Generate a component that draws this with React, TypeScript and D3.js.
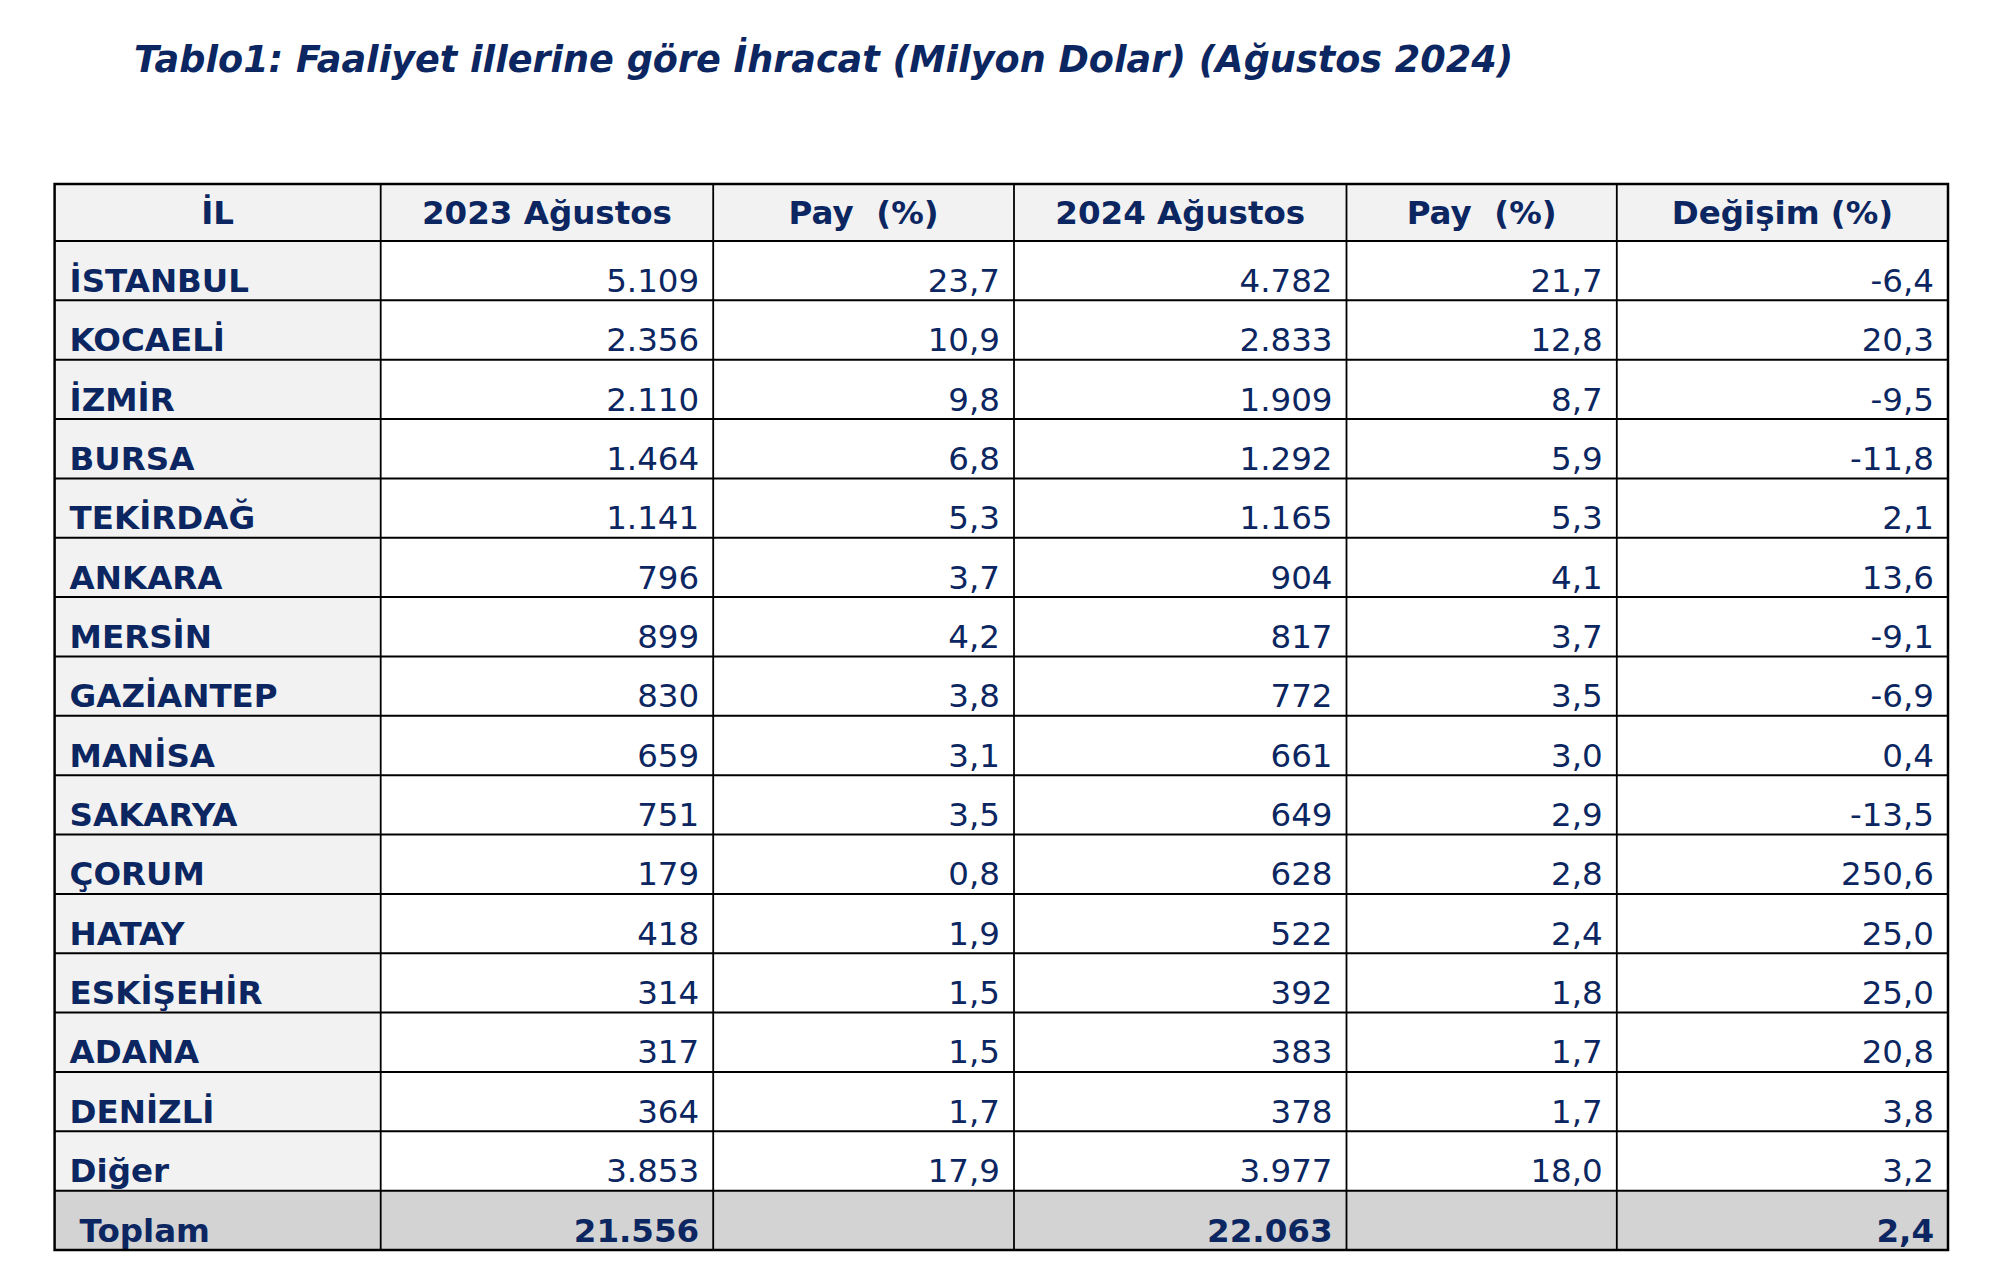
import React from "react";
import * as d3 from "d3";

const title = "Tablo1: Faaliyet illerine göre İhracat (Milyon Dolar) (Ağustos 2024)";
const headers = ["İL", "2023 Ağustos", "Pay  (%)", "2024 Ağustos", "Pay  (%)", "Değişim (%)"];
const provinces = ["İSTANBUL", "KOCAELİ", "İZMİR", "BURSA", "TEKİRDAĞ", "ANKARA", "MERSİN", "GAZİANTEP", "MANİSA", "SAKARYA", "ÇORUM", "HATAY", "ESKİŞEHİR", "ADANA", "DENİZLİ", "Diğer"];
const exp2023 = [5109, 2356, 2110, 1464, 1141, 796, 899, 830, 659, 751, 179, 418, 314, 317, 364, 3853];
const share2023 = [23.7, 10.9, 9.8, 6.8, 5.3, 3.7, 4.2, 3.8, 3.1, 3.5, 0.8, 1.9, 1.5, 1.5, 1.7, 17.9];
const exp2024 = [4782, 2833, 1909, 1292, 1165, 904, 817, 772, 661, 649, 628, 522, 392, 383, 378, 3977];
const share2024 = [21.7, 12.8, 8.7, 5.9, 5.3, 4.1, 3.7, 3.5, 3.0, 2.9, 2.8, 2.4, 1.8, 1.7, 1.7, 18.0];
const change = [-6.4, 20.3, -9.5, -11.8, 2.1, 13.6, -9.1, -6.9, 0.4, -13.5, 250.6, 25.0, 25.0, 20.8, 3.8, 3.2];
const totalLabel = "Toplam";
const total2023 = 21556;
const total2024 = 22063;
const totalChange = 2.4;

const tr = d3.formatLocale({ decimal: ",", thousands: ".", grouping: [3], currency: ["", " TL"], minus: "-" });
const fInt = tr.format(",.0f");
const fPct = tr.format(".1f");

const W = 1990;
const H = 1287;
const colEdges = [54.6, 380.7, 713.2, 1014, 1346.5, 1616.8, 1948];
const tableTop = 184;
const headerBottom = 241;
const tableBottom = 1250;
const NAVY = "#0b2660";
const FONT = "'DejaVu Sans', Verdana, sans-serif";

export default function App() {
  const nRows = provinces.length + 1;
  const y = d3.scaleLinear().domain([0, nRows]).range([headerBottom, tableBottom]);
  const rows = provinces.map((p, i) => ({
    label: p,
    cells: [fInt(exp2023[i]), fPct(share2023[i]), fInt(exp2024[i]), fPct(share2024[i]), fPct(change[i])],
    total: false,
  }));
  rows.push({
    label: totalLabel,
    cells: [fInt(total2023), "", fInt(total2024), "", fPct(totalChange)],
    total: true,
  });
  const fs = 32.5;
  return (
    <svg width={W} height={H} style={{ position: "absolute", left: 0, top: 0, background: "#fff" }} fontFamily={FONT}>
      <rect x={0} y={0} width={W} height={H} fill="#fff" />
      <text x={134} y={71.5} fill={NAVY} fontSize={36.6} fontWeight="bold" fontStyle="italic">{title}</text>
      {/* backgrounds */}
      <rect x={colEdges[0]} y={tableTop} width={colEdges[6] - colEdges[0]} height={headerBottom - tableTop} fill="#f2f2f2" />
      <rect x={colEdges[0]} y={headerBottom} width={colEdges[1] - colEdges[0]} height={y(nRows - 1) - headerBottom} fill="#f2f2f2" />
      <rect x={colEdges[0]} y={y(nRows - 1)} width={colEdges[6] - colEdges[0]} height={y(nRows) - y(nRows - 1)} fill="#d3d3d3" />
      {/* header text */}
      {headers.map((h, i) => (
        <text key={"h" + i} x={(colEdges[i] + colEdges[i + 1]) / 2} y={headerBottom - 17} textAnchor="middle" fill={NAVY} fontSize={fs} fontWeight="bold" style={{ whiteSpace: "pre" }}>{h}</text>
      ))}
      {rows.map((r, i) => (
        <g key={"r" + i}>
          <text x={colEdges[0] + (r.total ? 25 : 15)} y={y(i + 1) - 8.5} fill={NAVY} fontSize={fs} fontWeight="bold">{r.label}</text>
          {r.cells.map((c, j) => (
            <text key={j} x={colEdges[j + 2] - 14} y={y(i + 1) - 8.5} textAnchor="end" fill={NAVY} fontSize={fs} fontWeight={r.total ? "bold" : "normal"}>{c}</text>
          ))}
        </g>
      ))}
      {/* horizontal lines */}
      {d3.range(0, nRows).map((i) => (
        <line key={"hl" + i} x1={colEdges[0]} x2={colEdges[6]} y1={y(i)} y2={y(i)} stroke="#000" strokeWidth={2} />
      ))}
      {/* vertical lines */}
      {colEdges.slice(1, 6).map((x, i) => (
        <line key={"vl" + i} x1={x} x2={x} y1={tableTop} y2={tableBottom} stroke="#000" strokeWidth={1.8} />
      ))}
      <rect x={colEdges[0]} y={tableTop} width={colEdges[6] - colEdges[0]} height={tableBottom - tableTop} fill="none" stroke="#000" strokeWidth={2.5} />
    </svg>
  );
}
